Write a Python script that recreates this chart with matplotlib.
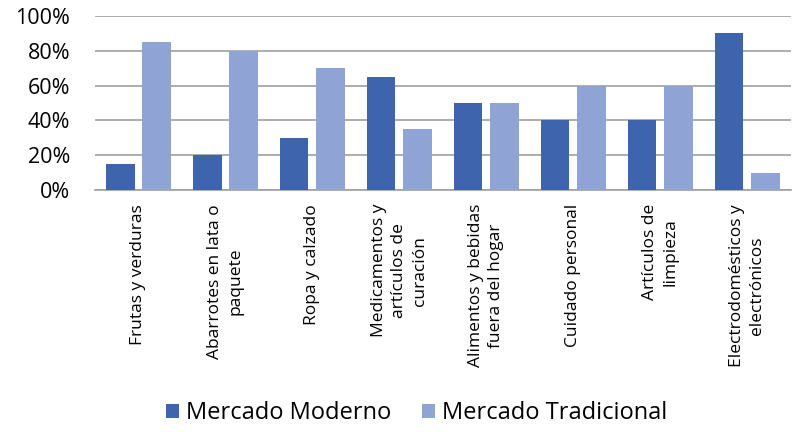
import matplotlib.pyplot as plt
import numpy as np

categorias = ["Frutas y verduras", "Abarrotes en lata o\npaquete", "Ropa y calzado",
              "Medicamentos y\nartículos de\ncuración", "Alimentos y bebidas\nfuera del hogar",
              "Cuidado personal", "Artículos de\nlimpieza", "Electrodomésticos y\nelectrónicos"]
moderno = [15, 20, 30, 65, 50, 40, 40, 90]
tradicional = [85, 80, 70, 35, 50, 60, 60, 10]

plt.rcParams['font.family'] = ['Open Sans', 'DejaVu Sans']

fig = plt.figure(figsize=(7.95, 4.32), dpi=100)
ax = fig.add_axes([0.1195, 0.560, 0.875, 0.403])

x = np.arange(len(categorias))
w = 0.33
ax.bar(x - 0.21, moderno, w, color='#3D64AD', label='Mercado Moderno', zorder=3)
ax.bar(x + 0.21, tradicional, w, color='#8FA4D4', label='Mercado Tradicional', zorder=3)

ax.set_xlim(-0.5, len(categorias) - 0.5)
ax.set_ylim(0, 100)
ax.set_yticks(np.arange(0, 101, 20))
ax.set_yticklabels([f"{v}%" for v in range(0, 101, 20)], fontsize=15.5)
ax.yaxis.grid(True, color='#A0A0A0', linewidth=1.2, zorder=0)
ax.set_xticks(x)
ax.set_xticklabels(categorias, rotation=90, fontsize=12.5, ha='center', va='top',
                   multialignment='center', linespacing=1.35)
ax.tick_params(axis='x', length=0, pad=10)
ax.tick_params(axis='y', length=0, pad=18)
for s in ['top', 'right', 'left']:
    ax.spines[s].set_visible(False)
ax.spines['bottom'].set_color('#A0A0A0')
ax.spines['bottom'].set_linewidth(1.2)

fig.legend(loc='center', bbox_to_anchor=(0.524, 0.044), ncol=2, frameon=False,
           fontsize=17, handlelength=0.55, handleheight=0.55, handletextpad=0.3,
           columnspacing=1.3)

fig.savefig('out.png', dpi=100)
